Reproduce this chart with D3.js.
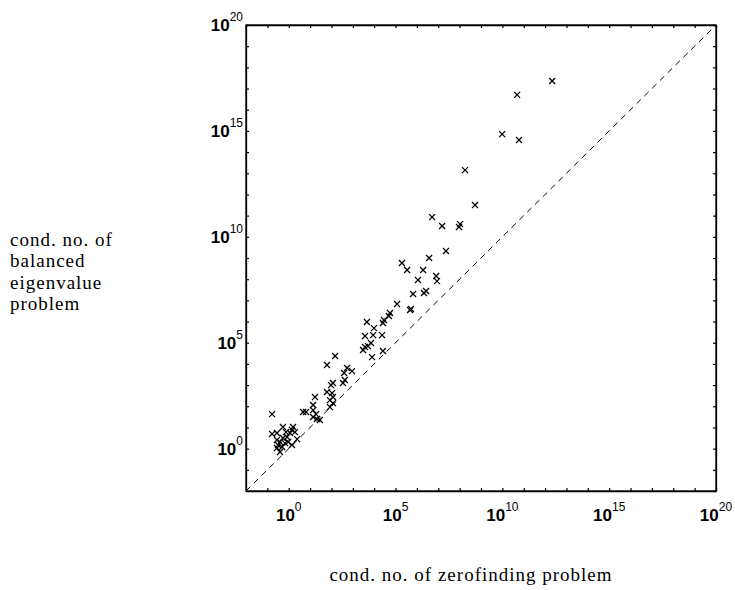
<!DOCTYPE html>
<html>
<head>
<meta charset="utf-8">
<script src="https://cdn.jsdelivr.net/npm/d3@7"></script>
<style>
  html, body { margin: 0; padding: 0; background: #fff; }
  svg { display: block; }
</style>
</head>
<body>
<svg id="chart" width="735" height="590"></svg>
<script>
// log10 of condition number of the zerofinding problem (x)
const zeroExp = [12.33,10.69,9.99,10.78,8.25,8.72,6.71,7.18,8.02,7.97,
  7.36,6.57,5.30,5.54,6.29,6.05,6.90,6.94,5.82,6.33,
  6.43,5.72,5.07,5.68,4.74,4.69,3.66,4.41,4.46,3.99,
  3.57,3.95,4.37,3.85,3.71,3.48,4.41,3.90,3.57,2.17,
  1.79,2.73,2.59,2.96,2.63,2.54,2.07,1.98,1.79,2.03,
  2.07,1.93,2.07,1.93,1.23,1.14,1.14,0.67,0.81,1.28,
  1.14,1.32,1.46,-0.78,-0.27,0.20,-0.78,-0.55,-0.13,0.15,
  -0.55,-0.41,-0.27,-0.08,-0.50,-0.31,-0.55,-0.17,-0.03,-0.41,
  0.06,0.29,0.39,0.15];
// log10 of condition number of the balanced eigenvalue problem (y)
const balExp = [17.36,16.70,14.85,14.57,13.15,11.50,10.93,10.51,10.60,10.46,
  9.33,9.00,8.76,8.43,8.43,7.96,8.15,7.91,7.30,7.35,
  7.44,6.59,6.83,6.54,6.40,6.26,5.98,5.93,6.07,5.69,
  5.32,5.36,5.36,4.99,4.84,4.66,4.61,4.32,4.80,4.37,
  3.95,3.81,3.57,3.66,3.24,3.10,3.10,3.00,2.67,2.62,
  2.44,2.29,2.15,1.96,2.44,2.06,1.82,1.73,1.73,1.63,
  1.49,1.40,1.35,1.63,1.02,1.02,0.69,0.74,0.78,0.88,
  0.41,0.31,0.50,0.55,0.17,0.08,0.03,0.26,0.31,-0.16,
  0.74,0.78,0.45,0.17];
const domainExp = [-2, 20];
const labelExps = [0, 5, 10, 15, 20];
const xTitle = "cond. no. of zerofinding problem";
const yTitleLines = ["cond. no. of", "balanced", "eigenvalue", "problem"];

const svg = d3.select("#chart");
const L = 246, R = 716, T = 25, B = 491;
const x = d3.scaleLog().domain(domainExp.map(e => Math.pow(10, e))).range([L, R]);
const y = d3.scaleLog().domain(domainExp.map(e => Math.pow(10, e))).range([B, T]);

const decades = d3.range(domainExp[0], domainExp[1] + 1).map(e => Math.pow(10, e));

// ticks on all four sides, pointing inward
const tk = 3;
svg.append("g").attr("transform", `translate(0,${B})`)
  .call(d3.axisBottom(x).tickValues(decades).tickSizeInner(-tk).tickSizeOuter(0).tickFormat(""));
svg.append("g").attr("transform", `translate(0,${T})`)
  .call(d3.axisTop(x).tickValues(decades).tickSizeInner(-tk).tickSizeOuter(0).tickFormat(""));
svg.append("g").attr("transform", `translate(${L},0)`)
  .call(d3.axisLeft(y).tickValues(decades).tickSizeInner(-tk).tickSizeOuter(0).tickFormat(""));
svg.append("g").attr("transform", `translate(${R},0)`)
  .call(d3.axisRight(y).tickValues(decades).tickSizeInner(-tk).tickSizeOuter(0).tickFormat(""));
svg.selectAll(".domain").attr("stroke", "#000").attr("stroke-width", 1.3);
svg.selectAll(".tick line").attr("stroke", "#000").attr("stroke-width", 1.2);

// frame
svg.append("rect").attr("x", L).attr("y", T).attr("width", R - L).attr("height", B - T)
  .attr("fill", "none").attr("stroke", "#000").attr("stroke-width", 1.3);

// dashed y = x line
svg.append("line")
  .attr("x1", x(Math.pow(10, domainExp[0]))).attr("y1", y(Math.pow(10, domainExp[0])))
  .attr("x2", x(Math.pow(10, domainExp[1]))).attr("y2", y(Math.pow(10, domainExp[1])))
  .attr("stroke", "#000").attr("stroke-width", 1).attr("stroke-dasharray", "6,5");

// tick labels
const labFont = "'Liberation Sans', Arial, Helvetica, sans-serif";
function powLabel(g, e) {
  g.append("tspan").attr("font-weight", "bold").style("font-size", "17px").text("10");
  g.append("tspan").style("font-size", "12px").attr("dy", -10).text(String(e));
}
labelExps.forEach(e => {
  const t = svg.append("text").attr("x", x(Math.pow(10, e))).attr("y", 521)
    .attr("text-anchor", "middle").attr("font-family", labFont).attr("fill", "#000");
  powLabel(t, e);
  const t2 = svg.append("text").attr("x", L - 3).attr("y", y(Math.pow(10, e)) + 6)
    .attr("text-anchor", "end").attr("font-family", labFont).attr("fill", "#000");
  powLabel(t2, e);
});

// points (x markers)
const s = 3;
svg.append("g").selectAll("path").data(zeroExp.map((e, i) => [e, balExp[i]]))
  .join("path")
  .attr("d", d => {
    const px = x(Math.pow(10, d[0])), py = y(Math.pow(10, d[1]));
    return `M${px - s},${py - s}L${px + s},${py + s}M${px - s},${py + s}L${px + s},${py - s}`;
  })
  .attr("stroke", "#000").attr("stroke-width", 1.3).attr("fill", "none");

// axis titles
const serif = "'Liberation Serif', 'Times New Roman', Times, serif";
svg.append("text").attr("x", 471).attr("y", 581).attr("text-anchor", "middle")
  .attr("font-family", serif).style("font-size", "19px").attr("letter-spacing", 1.0)
  .attr("fill", "#000").text(xTitle);
const yt = svg.append("text").attr("font-family", serif).style("font-size", "19px")
  .attr("letter-spacing", 1.0).attr("fill", "#000");
yTitleLines.forEach((ln, i) => {
  yt.append("tspan").attr("x", 10).attr("y", 246 + i * 21.3).text(ln);
});
</script>
</body>
</html>
